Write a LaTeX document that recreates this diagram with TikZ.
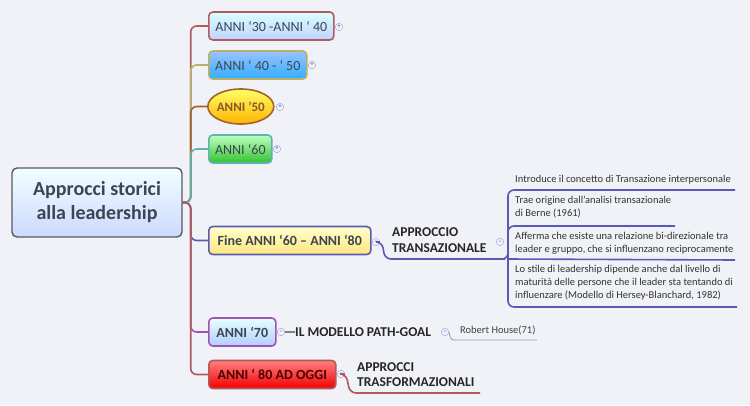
\documentclass[tikz,border=0pt]{standalone}
\usepackage{fontspec}
\setmainfont{Carlito}
\usetikzlibrary{shapes.geometric,calc}
\definecolor{bg}{HTML}{F0F2F8}
\definecolor{txt}{HTML}{3C4650}
\definecolor{c1}{HTML}{B45C5C}
\definecolor{c2}{HTML}{B8B268}
\definecolor{c3}{HTML}{A0622E}
\definecolor{c4}{HTML}{5EB4B4}
\definecolor{c5}{HTML}{5A5AB4}
\definecolor{c6}{HTML}{A452B4}
\definecolor{c7}{HTML}{B05A5A}
\tikzset{
 br/.style={draw, line width=1.6pt, rounded corners=4pt, minimum height=28pt, inner xsep=6pt, font=\fontsize{14}{15}\selectfont, text=txt, anchor=west},
 conn/.style={line width=1.6pt, rounded corners=6pt},
 plus/.style={circle, draw=blue!25!gray!60, fill=blue!5, inner sep=0pt, minimum size=7.5pt, font=\fontsize{7}{7}\selectfont, text=blue!40!gray},
 item/.style={anchor=north west, font=\fontsize{10.5}{13}\selectfont, text=black!80, align=left, inner sep=0pt},
 bold/.style={font=\bfseries\fontsize{13.5}{15.5}\selectfont, text=black!85, align=left, anchor=west, inner sep=0pt},
}
\begin{document}
\begin{tikzpicture}[x=1pt,y=-1pt]
\useasboundingbox[fill=bg] (0,0) rectangle (750,405);
\node[draw=gray!70!black, line width=1.4pt, rounded corners=5pt, top color=white!60!cyan!15, bottom color=cyan!25!blue!20, minimum width=170pt, minimum height=69pt, align=center, font=\bfseries\fontsize{20}{24}\selectfont, text=txt] (root) at (97,202.5) {Approcci storici\\alla leadership};

\node[br, draw=c1, top color=cyan!15, bottom color=cyan!30!blue!25, minimum width=125pt] (n1) at (208,26) {ANNI ‘30 -ANNI ‘ 40};
\node[br, draw=c2, top color=cyan!40!blue!40, bottom color=cyan!60!blue!80, minimum width=98pt] (n2) at (208,65) {ANNI ‘ 40 - ‘ 50};
\node[ellipse, draw=c3, line width=1.6pt, top color=yellow!60, bottom color=orange!60!yellow, minimum width=66pt, minimum height=35pt, inner sep=-2pt, font=\bfseries\fontsize{13}{14}\selectfont, text=brown!70!black, anchor=west] (n3) at (207,106.5) {ANNI ’50};
\node[br, draw=c4, top color=green!25, bottom color=green!70!black!80, minimum width=63pt] (n4) at (208,149) {ANNI ‘60};
\node[br, draw=c5, top color=yellow!20, bottom color=yellow!60!orange!50, minimum width=162pt, font=\bfseries\fontsize{14}{15}\selectfont] (n5) at (208,240.5) {Fine ANNI ‘60 – ANNI ‘80};
\node[br, draw=c6, top color=cyan!10, bottom color=cyan!35!blue!30, minimum width=67pt, font=\bfseries\fontsize{14}{15}\selectfont] (n6) at (208,332) {ANNI ‘70};
\node[br, draw=c7, top color=red!50, bottom color=red!95!black, minimum width=127pt, font=\bfseries\fontsize{14}{15}\selectfont, text=red!30!black] (n7) at (208,374.5) {ANNI ‘ 80 AD OGGI};

\coordinate (t) at ($(root.east)+(8,0)$);
\foreach \n/\c in {n1/c1, n2/c2, n3/c3, n4/c4, n5/c5, n6/c6, n7/c7}{
  \draw[conn, draw=\c] (root.east) -- (t) |- (\n.west);
}
\node[plus] (pn1) at (339,27) {+};
\node[plus] (pn2) at (312,65) {+};
\node[plus] (pn3) at (280,107) {+};
\node[plus] (pn4) at (277,149) {+};
\node[plus] (m5) at (376,242) {--};
\node[plus] (m6) at (281,332) {--};
\node[plus] (m7) at (341,374) {--};

% transazionale
\node[bold] (at) at (392,240) {APPROCCIO\\TRANSAZIONALE};
\coordinate (u5) at (505,259);
\draw[conn, draw=c5] (m5.east) -- (382,242) -- (385,259) -- (u5);
\node[plus] (m8) at (500,242) {--};
\node[item] (i1) at (515,175) {Introduce il concetto di Transazione interpersonale};
\node[item] (i2) at (515,196) {Trae origine dall’analisi transazionale\\di Berne (1961)};
\node[item] (i3) at (515,232) {Afferma che esiste una relazione bi-direzionale tra\\leader e gruppo, che si influenzano reciprocamente};
\node[item] (i4) at (515,265) {Lo stile di leadership dipende anche dal livello di\\maturità delle persone che il leader sta tentando di\\influenzare (Modello di Hersey-Blanchard, 1982)};
\coordinate (b) at (508,259);
\draw[conn, draw=c5] (u5) -- (b) |- (735,190);
\draw[conn, draw=c5] (b) |- (675,226);
\draw[conn, draw=c5] (b) -- (735,260);
\draw[conn, draw=c5] (b) |- (737,307);

% path-goal
\node[bold] (pg) at (295,332) {IL MODELLO PATH-GOAL};
\draw[line width=1.6pt, draw=gray] (m6.east) -- (pg.west);
\node[plus] (m9) at (445,332) {--};
\node[item, anchor=west, text=black!75] (rh) at (460,330) {Robert House(71)};
\draw[line width=0.8pt, draw=gray!80, rounded corners=3pt] (m9.east) -- (451,340) -- (537,340);

% trasformazionali
\node[bold] (tr) at (357,374.5) {APPROCCI\\TRASFORMAZIONALI};
\draw[conn, draw=c7] (m7.east) -- (346,374) -- (350,393) -- (480,393);
\end{tikzpicture}
\end{document}
